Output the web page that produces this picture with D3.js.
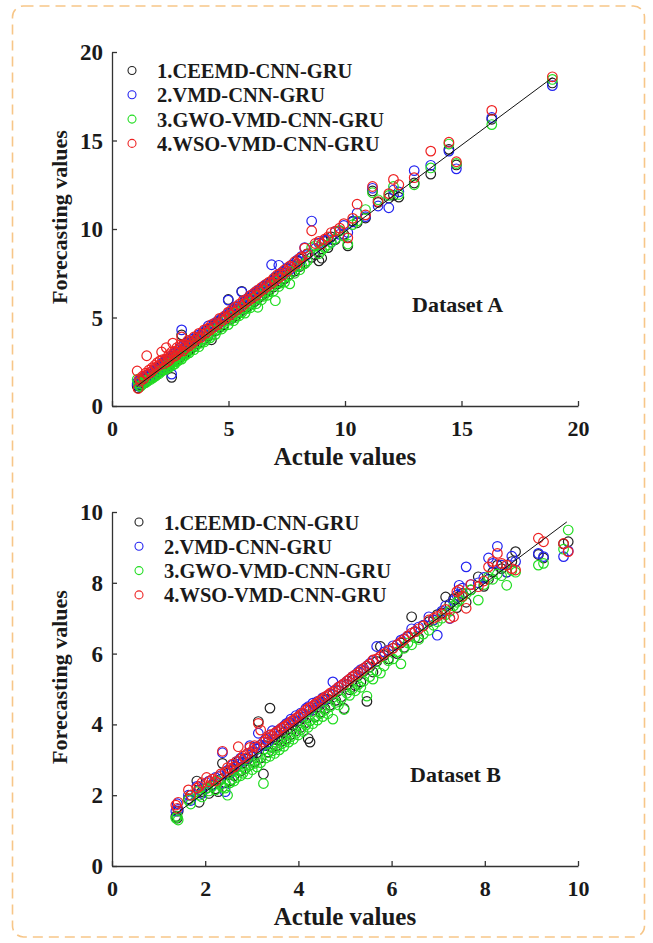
<!DOCTYPE html>
<html>
<head>
<meta charset="utf-8">
<script src="https://cdn.jsdelivr.net/npm/d3@7/dist/d3.min.js"></script>
<style>
  html, body { margin: 0; padding: 0; background: #ffffff; }
  svg { display: block; }
  text { font-family: "Liberation Serif", "Times New Roman", serif; font-weight: bold; fill: #1a1a1a; }
</style>
</head>
<body>
<svg id="chart" width="653" height="943"></svg>
<script>
// Model names and marker colours (drawn in this order, last on top)
const models = ["1.CEEMD-CNN-GRU", "2.VMD-CNN-GRU", "3.GWO-VMD-CNN-GRU", "4.WSO-VMD-CNN-GRU"];
const modelColors = ["#222222", "#2323f0", "#22dd22", "#ee2222"];

// ---- Dataset A: actual values and forecasts of each model ----
const actualA = [1.08,1.12,1.18,1.22,1.31,1.36,1.44,1.49,1.53,1.58,1.66,1.71,1.77,1.84,1.88,1.95,2.02,2.06,2.13,2.17,
  2.24,2.29,2.33,2.38,2.44,2.47,2.52,2.56,2.61,2.66,2.70,2.74,2.79,2.83,2.88,2.93,2.99,3.03,3.08,3.14,
  3.19,3.26,3.31,3.37,3.45,3.52,3.58,3.66,3.73,3.81,3.88,3.96,4.04,4.13,4.21,4.27,4.36,4.44,4.53,4.62,
  4.71,4.80,4.88,4.99,5.06,5.14,5.22,5.31,5.38,5.46,5.57,5.63,5.71,5.79,5.86,5.94,6.02,6.11,6.19,6.26,
  6.34,6.42,6.51,6.58,6.66,6.74,6.85,6.93,7.01,7.09,7.16,7.24,7.33,7.41,7.52,7.63,7.72,7.84,7.95,8.06,
  8.14,8.27,8.38,8.57,8.72,8.88,9.00,9.12,9.27,9.41,9.58,9.77,9.95,10.12,10.33,10.52,10.88,11.18,11.42,11.88,
  12.08,12.31,12.97,13.68,14.46,14.78,16.30,18.90];
const ceemdA = [1.15,1.02,1.35,1.18,1.45,1.28,1.52,1.40,1.62,1.50,1.78,1.60,1.85,1.95,1.76,2.10,1.92,2.18,2.02,2.35,
  2.15,2.44,2.22,2.55,2.30,2.62,2.40,1.62,2.75,2.50,2.85,2.60,2.95,2.68,3.05,2.78,4.02,2.92,3.25,2.98,
  3.35,3.12,3.48,3.20,3.62,3.35,3.75,3.50,3.90,3.62,4.05,3.80,4.22,3.95,4.40,3.74,4.55,4.25,4.72,4.45,
  4.90,4.60,5.05,6.02,5.25,4.95,5.42,5.10,5.58,5.28,6.48,5.45,5.92,5.60,6.05,5.75,6.22,5.90,6.40,6.08,
  6.55,6.25,6.72,6.40,6.88,6.55,7.05,6.72,7.22,6.90,7.38,7.05,7.55,7.20,7.75,7.45,7.95,7.62,8.20,7.88,
  8.30,8.05,8.60,8.40,8.55,8.20,8.35,9.30,8.95,9.55,9.40,9.90,9.70,9.05,10.45,10.35,10.62,12.15,11.50,11.75,
  11.90,11.80,12.60,13.10,14.50,13.62,16.20,18.25];
const vmdA = [1.25,1.40,1.10,1.50,1.38,1.62,1.55,1.72,1.48,1.80,1.70,1.95,1.82,2.05,2.00,1.90,2.25,2.12,2.40,2.20,
  2.50,2.35,2.62,2.45,2.70,2.55,2.82,1.80,2.68,2.95,2.80,3.05,2.88,3.15,2.98,3.30,4.30,3.20,3.45,3.28,
  3.55,3.40,3.65,3.50,3.78,3.60,3.88,3.75,4.02,3.90,4.15,4.05,4.30,4.52,4.35,4.42,4.65,4.50,4.80,4.70,
  4.95,4.85,5.12,5.98,5.30,5.22,5.50,5.40,5.65,5.55,6.45,5.75,6.00,5.88,6.12,6.05,6.30,6.20,6.48,6.35,
  6.60,6.52,6.78,6.65,6.90,6.85,7.98,7.05,7.30,7.15,7.95,7.35,7.60,7.50,7.80,7.70,7.98,7.90,8.25,8.15,
  8.45,8.95,8.55,10.45,8.90,9.20,9.15,9.35,9.40,9.25,9.85,9.70,10.20,9.80,10.40,10.90,10.70,12.30,11.30,11.20,
  12.20,12.10,13.30,13.60,14.40,13.40,16.30,18.10];
const gwoA = [1.50,1.30,1.15,1.10,1.25,1.40,1.32,1.45,1.40,1.55,1.50,1.62,1.60,1.75,1.70,1.85,1.82,1.98,1.95,2.10,
  2.10,2.05,2.30,2.15,2.40,2.20,2.35,2.45,2.30,2.62,2.38,2.50,2.75,2.55,2.62,2.90,2.65,2.80,3.02,2.85,
  2.95,3.20,3.00,3.15,3.42,3.18,3.40,3.60,3.35,3.55,3.80,3.62,3.75,4.05,3.85,4.00,4.30,4.05,4.28,4.55,
  4.35,4.50,4.80,4.60,4.85,5.05,4.82,5.00,5.30,5.10,5.28,5.55,5.25,5.50,5.80,5.55,5.75,6.05,5.78,5.58,
  6.25,6.00,6.20,6.52,6.25,6.45,6.78,6.50,5.95,7.00,6.75,6.95,7.25,7.00,7.30,6.90,7.60,7.50,7.88,7.70,
  7.95,8.05,8.20,8.95,9.05,8.60,8.80,8.95,9.10,9.25,9.45,9.90,9.60,9.15,10.25,10.45,11.10,12.05,11.65,11.90,
  12.40,11.95,12.50,13.45,14.80,13.70,15.90,18.45];
const wsoA = [1.98,0.99,1.55,1.40,1.68,1.55,1.85,2.84,1.80,2.02,1.90,2.15,2.05,2.30,2.20,2.45,2.30,2.55,3.05,2.62,
  2.40,2.65,3.30,2.50,2.90,2.60,2.75,3.05,3.55,2.80,3.10,2.85,3.30,3.00,3.15,3.45,3.90,3.10,3.50,3.25,
  3.45,3.70,3.40,3.65,3.55,3.90,3.70,3.85,4.10,3.88,4.05,4.30,4.12,4.40,4.30,4.60,4.45,4.70,4.60,4.95,
  4.80,5.05,4.95,5.30,5.15,5.45,5.30,5.60,5.45,5.75,5.62,5.95,5.80,6.05,5.95,6.25,6.10,6.40,6.25,6.55,
  6.45,6.70,6.60,6.85,6.75,7.00,6.92,7.20,7.10,7.40,7.25,7.50,7.40,7.70,7.62,7.90,7.85,8.15,8.05,8.35,
  8.40,8.92,8.60,9.90,9.18,9.30,9.15,9.42,9.55,9.80,9.88,10.05,10.30,9.50,10.60,11.40,10.80,12.40,11.55,12.00,
  12.80,12.50,12.90,14.40,14.90,13.80,16.70,18.60];
// Fitted reference line for dataset A: [x0, y0, x1, y1]
const fitA = [1.1, 1.15, 18.9, 18.55];
const ticksA = [0, 5, 10, 15, 20];

// ---- Dataset B: actual values and forecasts of each model ----
const actualB = [1.37,1.40,1.42,1.64,1.69,1.82,1.87,1.93,2.03,2.08,2.15,2.22,2.28,2.33,2.37,2.43,2.48,2.53,2.58,2.62,
  2.67,2.71,2.76,2.81,2.86,2.91,2.96,3.01,3.06,3.11,3.14,3.19,3.25,3.30,3.35,3.39,3.44,3.49,3.54,3.59,
  3.64,3.69,3.74,3.79,3.84,3.89,3.95,4.00,4.05,4.10,4.16,4.21,4.25,4.31,4.36,4.41,4.47,4.52,4.57,4.63,
  4.68,4.74,4.80,4.86,4.92,4.98,5.04,5.10,5.16,5.22,5.28,5.34,5.40,5.47,5.53,5.60,5.68,5.76,5.84,5.93,
  6.03,6.12,6.20,6.27,6.35,6.43,6.50,6.58,6.68,6.80,6.90,6.98,7.08,7.16,7.25,7.33,7.40,7.45,7.52,7.60,
  7.70,7.86,7.98,8.08,8.17,8.27,8.36,8.47,8.58,8.66,9.15,9.26,9.69,9.79];
const ceemdB = [1.40,1.35,1.55,1.90,2.00,2.40,1.80,2.10,2.20,2.05,2.30,2.18,2.10,2.45,2.90,2.35,2.62,2.40,2.70,2.55,
  2.80,2.95,2.68,2.92,2.75,3.02,2.85,3.10,2.95,3.20,4.08,3.05,2.60,3.40,3.22,4.46,3.35,3.58,3.40,3.68,
  3.52,3.78,3.60,3.88,3.72,3.98,3.82,4.10,3.92,4.20,4.05,3.60,3.50,4.40,4.22,4.50,4.35,4.62,4.45,4.72,
  4.55,4.85,4.68,4.95,4.78,4.45,5.12,4.98,5.25,5.10,5.38,5.20,5.50,4.65,5.62,5.48,5.78,6.20,5.95,5.85,
  6.15,6.00,6.30,6.18,6.48,7.04,6.62,6.45,6.80,6.90,6.95,7.10,7.15,7.60,7.40,7.55,7.30,7.62,7.70,7.45,
  7.80,8.17,7.90,8.10,8.30,8.50,8.40,8.30,8.60,8.88,8.80,8.70,9.10,9.16];
const vmdB = [1.55,1.76,1.60,2.00,1.85,2.25,2.15,2.05,2.35,2.40,2.28,2.50,2.40,2.55,3.20,2.10,2.70,2.62,2.85,2.75,
  2.95,2.88,3.05,2.98,3.12,3.05,3.40,3.22,3.35,3.30,3.75,3.42,3.40,3.58,3.50,3.70,3.82,3.72,3.80,3.85,
  3.88,3.95,4.02,4.05,4.15,4.10,4.25,4.20,4.32,4.28,4.45,4.50,4.40,4.60,4.55,4.65,4.62,4.75,4.70,4.82,
  4.85,5.20,4.98,5.05,5.10,5.15,5.22,5.28,5.35,5.40,5.48,5.55,5.58,5.65,5.72,5.80,6.20,5.92,6.05,6.10,
  6.22,6.25,6.38,6.42,6.50,6.70,6.62,6.75,6.80,7.04,6.95,6.52,7.20,7.35,6.99,7.50,7.65,7.93,7.85,8.45,
  7.95,8.00,8.15,8.70,8.55,9.03,8.50,8.30,8.75,8.60,8.83,8.74,8.74,8.90];
const gwoB = [1.35,1.40,1.30,1.86,1.75,2.10,2.00,1.95,2.20,2.12,2.25,2.15,2.40,2.30,2.22,2.20,2.00,2.35,2.45,2.40,
  2.50,2.70,2.55,2.62,2.75,2.60,2.85,2.72,2.90,2.80,3.05,2.92,2.33,3.05,3.20,3.10,3.25,3.18,3.35,3.28,
  3.45,3.38,3.55,3.50,3.65,3.58,3.75,3.70,3.85,3.80,3.98,3.92,4.10,4.02,4.20,4.12,4.30,4.22,4.40,4.30,
  4.50,4.15,4.62,4.55,4.72,4.42,4.88,4.82,5.00,4.95,5.12,5.05,5.22,4.80,5.35,5.28,5.50,5.45,5.65,5.80,
  5.85,6.05,5.71,6.15,6.30,6.25,6.45,6.40,6.55,6.66,6.80,6.90,7.00,7.10,7.20,7.35,7.45,7.50,7.60,7.70,
  7.80,7.51,7.95,8.17,8.10,8.25,8.20,7.93,8.35,8.30,8.50,8.55,8.95,9.49];
const wsoB = [1.72,1.63,1.80,2.15,2.00,2.20,2.25,2.35,2.50,2.38,2.45,2.40,2.52,2.60,3.24,2.65,2.78,2.72,2.88,2.80,
  2.95,3.37,3.02,3.10,3.05,3.18,3.35,3.25,3.40,3.35,4.03,3.84,3.50,3.55,3.62,3.70,3.68,3.75,3.80,3.82,
  3.90,3.92,3.98,4.02,4.08,4.12,4.18,4.22,4.28,4.32,4.40,4.45,4.48,4.52,4.58,4.62,4.68,4.72,4.78,4.82,
  4.88,4.92,4.98,5.05,5.10,5.15,5.22,5.28,5.35,5.40,5.45,5.52,5.58,5.65,5.70,5.82,5.85,5.92,6.00,6.08,
  6.15,6.25,6.32,6.40,6.50,6.58,6.62,6.70,6.78,6.95,7.00,7.05,7.12,7.25,7.00,7.04,7.75,7.80,7.62,7.28,
  7.95,7.89,8.05,8.45,8.60,8.83,8.55,8.50,8.40,8.36,9.26,9.16,9.11,8.88];
const fitB = [1.4, 1.5, 9.76, 9.72];
const ticksB = [0, 2, 4, 6, 8, 10];

const svg = d3.select("#chart");

// Dashed rounded frame around the whole figure
svg.append("rect")
  .attr("x", 12.5).attr("y", 6)
  .attr("width", 632).attr("height", 931)
  .attr("rx", 11).attr("ry", 11)
  .attr("fill", "none")
  .attr("stroke", "#f7c688")
  .attr("stroke-width", 1.6)
  .attr("stroke-dasharray", "10 6");

function drawPanel(p) {
  const x = d3.scaleLinear().domain([0, p.max]).range([112, 578]);
  const y = d3.scaleLinear().domain([0, p.max]).range([p.bottom, p.top]);
  const g = svg.append("g");

  // Axes with inward ticks (left and bottom only)
  const xAxis = g.append("g")
    .attr("transform", `translate(0,${p.bottom})`)
    .call(d3.axisBottom(x).tickValues(p.ticks).tickFormat(d3.format("d")).tickSizeInner(-5).tickSizeOuter(0));
  xAxis.selectAll("text").attr("y", 30).attr("dy", null).style("font-size", "22px");

  const yAxis = g.append("g")
    .attr("transform", "translate(112,0)")
    .call(d3.axisLeft(y).tickValues(p.ticks).tickFormat(d3.format("d")).tickSizeInner(-5).tickSizeOuter(0));
  yAxis.selectAll("text").attr("x", -9).attr("dy", "0.33em").style("font-size", "23px");

  [xAxis, yAxis].forEach(a => {
    a.select(".domain").attr("stroke", "#333").attr("stroke-width", 1.3);
    a.selectAll(".tick line").attr("stroke", "#333").attr("stroke-width", 1.3);
  });

  // Scatter of forecasts against actual values
  p.series.forEach((vals, i) => {
    g.append("g").selectAll("circle")
      .data(p.actual.map((a, k) => [a, vals[k]]))
      .join("circle")
      .attr("cx", d => x(d[0]))
      .attr("cy", d => y(d[1]))
      .attr("r", 4.8)
      .attr("fill", "none")
      .attr("stroke", modelColors[i])
      .attr("stroke-width", 1.2);
  });

  // Fitted line
  g.append("line")
    .attr("x1", x(p.fit[0])).attr("y1", y(p.fit[1]))
    .attr("x2", x(p.fit[2])).attr("y2", y(p.fit[3]))
    .attr("stroke", "#111").attr("stroke-width", 1);

  // Legend
  const lg = g.append("g");
  models.forEach((name, i) => {
    const cy = p.legendY + i * 24.3;
    lg.append("circle")
      .attr("cx", p.legendX).attr("cy", cy).attr("r", 4)
      .attr("fill", "none").attr("stroke", modelColors[i]).attr("stroke-width", 1.1);
    lg.append("text")
      .attr("x", p.legendX + 25).attr("y", cy + 7.5)
      .style("font-size", "20.5px")
      .text(name);
  });

  // Dataset label
  g.append("text")
    .attr("x", p.labelX).attr("y", p.labelY)
    .style("font-size", "22px")
    .text(p.label);

  // Axis titles
  g.append("text")
    .attr("x", 345).attr("y", p.bottom + 59)
    .attr("text-anchor", "middle")
    .style("font-size", "25px")
    .text("Actule values");
  g.append("text")
    .attr("transform", `translate(67,${p.titleY}) rotate(-90)`)
    .attr("text-anchor", "middle")
    .style("font-size", "22px")
    .text("Forecasting values");
}

drawPanel({
  max: 20, top: 52, bottom: 406, ticks: ticksA,
  actual: actualA, series: [ceemdA, vmdA, gwoA, wsoA], fit: fitA,
  legendX: 132, legendY: 70.5, label: "Dataset A", labelX: 412, labelY: 312, titleY: 217
});
drawPanel({
  max: 10, top: 512, bottom: 866, ticks: ticksB,
  actual: actualB, series: [ceemdB, vmdB, gwoB, wsoB], fit: fitB,
  legendX: 139, legendY: 522, label: "Dataset B", labelX: 410, labelY: 782, titleY: 677
});
</script>
</body>
</html>
